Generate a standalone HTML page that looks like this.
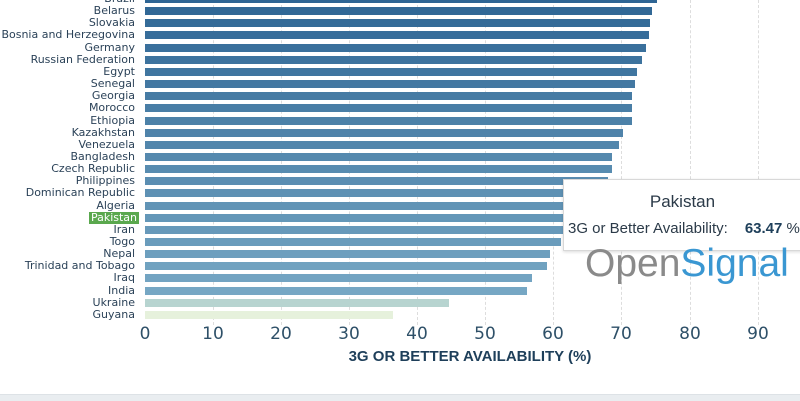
<!DOCTYPE html>
<html><head><meta charset="utf-8"><style>
body{margin:0;width:800px;height:400px;overflow:hidden;background:#fff;font-family:"DejaVu Sans","Liberation Sans",sans-serif;position:relative}
.lab{position:absolute;right:665px;font-size:11px;color:#2b4258;line-height:12px;white-space:nowrap}
.bar{position:absolute;left:145px;height:8px}
.grid{position:absolute;top:0;height:325px;border-left:1px dashed #ddd;width:0}
.tick{position:absolute;top:324px;font-size:17px;color:#2e5068;width:40px;margin-left:-20px;text-align:center}
</style></head><body>
<div class="grid" style="left:213px"></div><div class="grid" style="left:281px"></div><div class="grid" style="left:349px"></div><div class="grid" style="left:417px"></div><div class="grid" style="left:485px"></div><div class="grid" style="left:553px"></div><div class="grid" style="left:621px"></div><div class="grid" style="left:690px"></div><div class="grid" style="left:758px"></div>
<div id="c"></div>
<div class="tick" style="left:145px">0</div><div class="tick" style="left:213px">10</div><div class="tick" style="left:281px">20</div><div class="tick" style="left:349px">30</div><div class="tick" style="left:417px">40</div><div class="tick" style="left:485px">50</div><div class="tick" style="left:553px">60</div><div class="tick" style="left:621px">70</div><div class="tick" style="left:690px">80</div><div class="tick" style="left:758px">90</div>
<div style="position:absolute;left:270px;width:400px;text-align:center;top:348px;font-size:15px;font-weight:bold;color:#1e3f5a;font-family:'Liberation Sans',sans-serif">3G OR BETTER AVAILABILITY (%)</div>
<div style="position:absolute;left:0;top:394px;width:800px;height:6px;background:#e9edf0;border-top:1px solid #dde2e6"></div>
<div style="position:absolute;left:563px;top:179px;width:250px;height:70px;background:#fff;border:1px solid #d8d8d8;box-shadow:0 1px 3px rgba(0,0,0,.15)">
<div style="position:absolute;top:12px;left:0;width:237px;text-align:center;font-size:17px;color:#2b3a48;font-family:'Liberation Sans',sans-serif">Pakistan</div>
<div style="position:absolute;top:40px;left:4px;font-size:15px;color:#2b3a48;white-space:nowrap;font-family:'Liberation Sans',sans-serif">3G or Better Availability:<b style="margin-left:17px;color:#1e3f5a">63.47</b> %</div>
</div>
<div style="position:absolute;left:585px;top:242px;font-size:39px;white-space:nowrap;font-family:'Liberation Sans',sans-serif"><span style="color:#8a8a8a">Open</span><span style="color:#3a97d2">Signal</span></div>
<script>
var d=[["Brazil",657],["Belarus",652],["Slovakia",650],["Bosnia and Herzegovina",649],["Germany",646],["Russian Federation",642],["Egypt",637],["Senegal",635],["Georgia",632],["Morocco",632],["Ethiopia",632],["Kazakhstan",623],["Venezuela",619],["Bangladesh",612],["Czech Republic",612],["Philippines",608],["Dominican Republic",600],["Algeria",590],["Pakistan",577],["Iran",563],["Togo",561],["Nepal",550],["Trinidad and Tobago",547],["Iraq",532],["India",527],["Ukraine",449],["Guyana",393]];
var h='';
for(var i=0;i<d.length;i++){var y=-1+i*12.15;var t=i/24;
var r=Math.round(46+(118-46)*t),g=Math.round(101+(167-101)*t),b=Math.round(148+(196-148)*t);
var col='rgb('+r+','+g+','+b+')';if(i==25)col='#b7d4d0';if(i==26)col='#e6f1dc';
h+='<div class="bar" style="top:'+(y-4)+'px;width:'+(d[i][1]-145)+'px;background:'+col+'"></div>';
if(i==18)h+='<div class="lab" style="top:'+(y-6)+'px;background:#5aa84e;color:#fff;padding:0 2px;right:661px">'+d[i][0]+'</div>';
else h+='<div class="lab" style="top:'+(y-6)+'px">'+d[i][0]+'</div>';}
document.getElementById('c').innerHTML=h;
</script>
</body></html>
